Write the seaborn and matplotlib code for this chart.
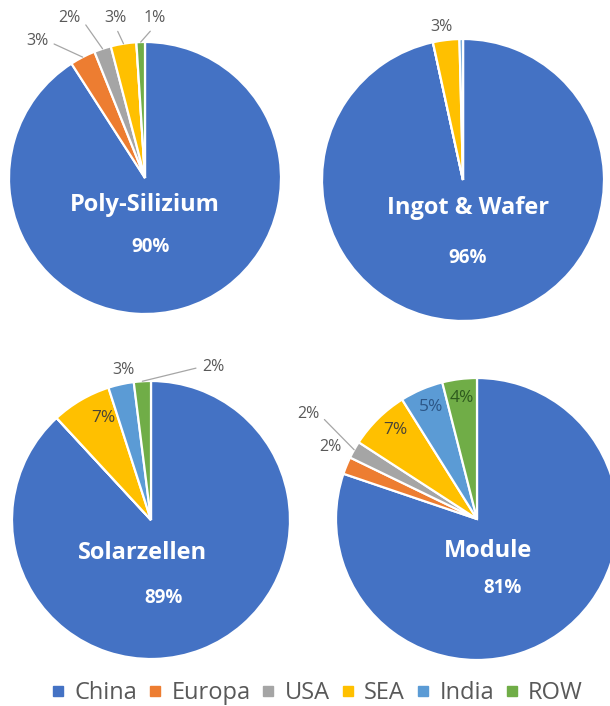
import numpy as np
import matplotlib
matplotlib.use("Agg")
import matplotlib.pyplot as plt
from matplotlib.lines import Line2D
import seaborn as sns

# regions and their share (%) of each production step
regions = ["China", "Europa", "USA", "SEA", "India", "ROW"]
poly_share = [90, 3, 2, 3, 0, 1]
wafer_share = [96, 0, 0, 3, 0.4, 0]
cell_share = [89, 0, 0, 7, 3, 2]
module_share = [81, 2, 2, 7, 5, 4]
stage_names = ["Poly-Silizium", "Ingot & Wafer", "Solarzellen", "Module"]
stage_shares = [poly_share, wafer_share, cell_share, module_share]

sns.set_theme(style="white")
palette = sns.color_palette(["#4472C4", "#ED7D31", "#A5A5A5", "#FFC000", "#5B9BD5", "#70AD47"])
inside_text = {3: "#4A4436", 4: "#2C5687", 5: "#2E5A1E"}
plt.rcParams["font.family"] = ["Open Sans", "DejaVu Sans"]

W, H = 610, 706
# pie centre (px from top-left) and radius (px)
layout = [((145, 178), 136), ((463, 180), 141), ((151, 520), 139), ((477, 519), 141)]
# offsets of the big name / value labels in radius units
title_pos = [((0.0, -0.20), (0.04, -0.51)),
             ((0.035, -0.20), (0.035, -0.55)),
             ((-0.06, -0.24), (0.09, -0.56)),
             ((0.08, -0.23), (0.18, -0.49))]
# small labels: region index -> (distance, angle shift, leader line, inside)
small_labels = [
    {1: (1.28, 11, True, False), 2: (1.30, 7, True, False),
     3: (1.20, 1.5, True, False), 5: (1.18, -5.4, True, False)},
    {3: (1.095, 1, False, False)},
    {3: (0.81, -5, False, True), 4: (1.10, -2, False, False),
     5: (1.19, -25.6, True, False)},
    {1: (1.16, -3.8, False, False), 2: (1.41, -2.4, True, False),
     3: (0.86, -2, False, True), 4: (0.86, -1, False, True),
     5: (0.865, 0, False, True)},
]

fig = plt.figure(figsize=(W / 100, H / 100), dpi=100)

for name, shares, ((cx, cy), r), (tp, vp), lbls in zip(
        stage_names, stage_shares, layout, title_pos, small_labels):
    ax = fig.add_axes([(cx - r) / W, (H - cy - r) / H, 2 * r / W, 2 * r / H])
    wedges, _ = ax.pie(shares, colors=palette, startangle=90, counterclock=False,
                       wedgeprops=dict(edgecolor="white", linewidth=1.6))
    ax.set_xlim(-1, 1)
    ax.set_ylim(-1, 1)
    ax.set_aspect("equal")
    ax.axis("off")

    ax.text(tp[0], tp[1], name, ha="center", va="center", color="white",
            fontsize=17, fontweight="bold")
    ax.text(vp[0], vp[1], f"{shares[0]:.0f}%", ha="center", va="center",
            color="white", fontsize=13.5, fontweight="bold")

    for idx, (dist, shift, leader, inside) in lbls.items():
        w = wedges[idx]
        mid = (w.theta1 + w.theta2) / 2
        ang = np.deg2rad(mid + shift)
        tx, ty = dist * np.cos(ang), dist * np.sin(ang)
        label = f"{shares[idx]:.0f}%"
        color = inside_text[idx] if inside else "#595959"
        size = 12.5 if inside else 11.5
        if leader:
            px, py = np.cos(np.deg2rad(mid)), np.sin(np.deg2rad(mid))
            if abs(px - tx) > abs(py - ty):
                rel = (1, 0.5) if px > tx else (0, 0.5)
            else:
                rel = (0.5, 0)
            ax.annotate(label, xy=(px, py), xytext=(tx, ty), ha="center", va="center",
                        fontsize=size, color=color, annotation_clip=False,
                        arrowprops=dict(arrowstyle="-", color="#A6A6A6", lw=0.9,
                                        shrinkA=2, shrinkB=0, relpos=rel))
        else:
            ax.text(tx, ty, label, ha="center", va="center", fontsize=size, color=color)

handles = [Line2D([], [], marker="s", linestyle="none", markersize=6.5,
                  markerfacecolor=c, markeredgecolor=c) for c in palette]
fig.legend(handles, regions, loc="center", bbox_to_anchor=(317 / W, 13 / H),
           ncol=6, frameon=False, fontsize=17, labelcolor="#595959",
           handlelength=0.6, handletextpad=0.4, columnspacing=0.45,
           borderpad=0, borderaxespad=0)

fig.savefig("out.png", dpi=100)
